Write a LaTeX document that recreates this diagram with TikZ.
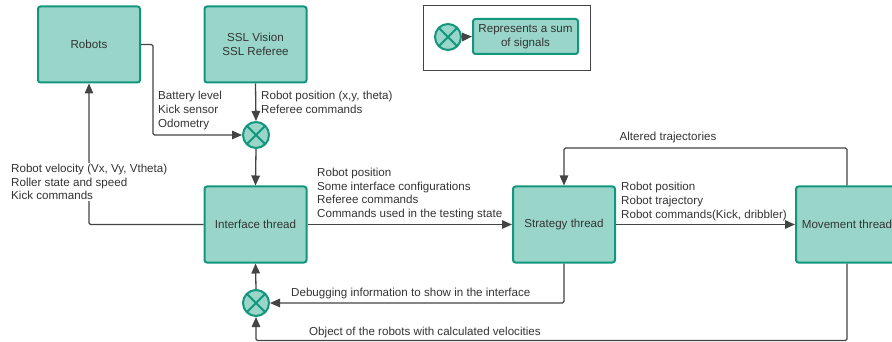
\documentclass[tikz,border=0pt]{standalone}
\usepackage{fontspec}
\setmainfont{Liberation Sans}
\usetikzlibrary{arrows.meta}
\definecolor{boxfill}{RGB}{153,214,201}
\definecolor{boxdraw}{RGB}{18,150,124}
\definecolor{txt}{RGB}{51,51,51}
\definecolor{ln}{RGB}{68,68,68}
\begin{document}
\begin{tikzpicture}[x=1pt,y=-1pt,
  font=\fontsize{11.6}{13.7}\selectfont, text=txt,
  block/.style={draw=boxdraw, fill=boxfill, line width=2pt, rounded corners=2.5pt,
    minimum width=102pt, minimum height=76pt, align=center, inner sep=0pt},
  sumnode/.style={circle, draw=boxdraw, fill=boxfill, line width=2pt,
    minimum size=26pt, inner sep=0pt,
    path picture={\draw[boxdraw, line width=2pt]
      (path picture bounding box.north west) -- (path picture bounding box.south east)
      (path picture bounding box.north east) -- (path picture bounding box.south west);}},
  conn/.style={draw=ln, line width=1.3pt, rounded corners=1.5pt},
  arr/.style={conn, -{Triangle[length=10pt,width=8.5pt]}},
  lbl/.style={align=left, inner sep=1pt, anchor=west},
  legendbox/.style={draw=ln, line width=1pt}
]
\useasboundingbox (0,0) rectangle (892,342);

% blocks
\node[block] (robots) at (89,44.5) {Robots};
\node[block] (ssl) at (255.5,44.5) {SSL Vision\\SSL Referee};
\node[block] (iface) at (255.5,224.5) {Interface thread};
\node[block] (strat) at (564,224.5) {Strategy thread};
\node[block] (move) at (847,224.5) {Movement thread};
\node[sumnode] (sum1) at (256,135) {};
\node[sumnode] (sum2) at (256,303) {};

% coordinates
\coordinate (rb) at (153,44.5);
\coordinate (alt) at (847,148);
\coordinate (obj) at (847,340.5);

% connectors
\draw[arr] (robots.east) -- (rb) |- (sum1.west);
\draw[arr] (ssl.south) -- (sum1.north);
\draw[arr] (sum1.south) -- (iface.north);
\draw[arr] (iface.west) -| (robots.south);
\draw[arr] (iface.east) -- (strat.west);
\draw[arr] (strat.east) -- (move.west);
\draw[arr] (move.north) |- (strat.north |- alt) -- (strat.north);
\draw[arr] (strat.south) |- (sum2.east);
\draw[arr] (move.south) -- (obj) -| (sum2.south);
\draw[arr] (sum2.north) -- (iface.south);

% labels
\node[lbl] at (157,110.5) {Battery level\\Kick sensor\\Odometry};
\node[lbl] at (260,102.5) {Robot position (x,y, theta)\\Referee commands};
\node[lbl, fill=white] at (10,182) {Robot velocity (Vx, Vy, Vtheta)\\Roller state and speed\\Kick commands};
\node[lbl] at (316,194) {Robot position\\Some interface configurations\\Referee commands\\Commands used in the testing state};
\node[lbl] at (620,201.5) {Robot position\\Robot trajectory\\Robot commands(Kick, dribbler)};
\node[inner sep=1pt] at (668,137.5) {Altered trajectories};
\node[lbl] at (290,293) {Debugging information to show in the interface};
\node[lbl] at (308,332) {Object of the robots with calculated velocities};

% legend
\draw[legendbox] (423,6) rectangle (590,71);
\node[sumnode] (lsum) at (448,37) {};
\node[block, minimum width=105pt, minimum height=35pt] (lbox) at (525.5,36.5) {Represents a sum\\of signals};
\draw[arr] (lsum.east) -- (lbox.west);
\end{tikzpicture}
\end{document}
